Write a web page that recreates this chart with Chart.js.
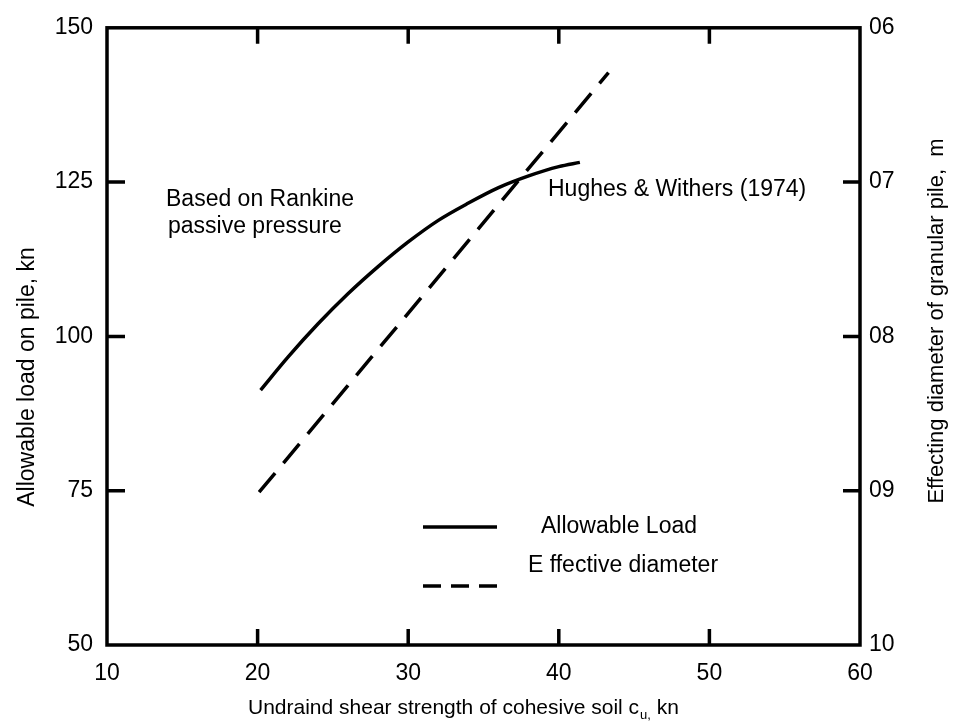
<!DOCTYPE html>
<html>
<head>
<meta charset="utf-8">
<title>Allowable load and effective diameter</title>
<script src="https://cdn.jsdelivr.net/npm/chart.js@4/dist/chart.umd.min.js"></script>
<style>
  html, body { margin: 0; padding: 0; background: #fff; }
  canvas { display: block; }
</style>
</head>
<body>
<canvas id="chart" width="959" height="722"></canvas>
<script>
// Data
const loadShear = [20.2, 22, 24, 26, 28, 30, 32, 34, 36, 38, 40, 41.4];
const allowableLoad = [91.3, 96.6, 102.0, 106.9, 111.3, 115.3, 118.8, 121.6, 124.1, 126.0, 127.5, 128.2];
const diameterShear = [20.1, 43.3];
const effectiveDiameter = [0.901, 0.629];

// Axis ranges / ticks
const xTicks = [10, 20, 30, 40, 50, 60];
const loadTicks = [50, 75, 100, 125, 150];
const diameterTicks = [0.6, 0.7, 0.8, 0.9, 1.0];

const FONT = '"Liberation Sans", Arial, Helvetica, sans-serif';

// Frame, inward tick marks, legend, notes and axis titles
const decorations = {
    id: 'decorations',
    afterDraw(chart) {
        const ctx = chart.ctx;
        const a = chart.chartArea;
        const sx = chart.scales.x, sy = chart.scales.y, sy2 = chart.scales.y2;
        ctx.save();
        ctx.strokeStyle = '#000';
        ctx.fillStyle = '#000';
        ctx.lineCap = 'butt';

        // frame
        ctx.lineWidth = 3.5;
        ctx.strokeRect(a.left, a.top, a.right - a.left, a.bottom - a.top);

        // inward ticks
        ctx.beginPath();
        xTicks.slice(1, -1).forEach(v => {
            const px = sx.getPixelForValue(v);
            ctx.moveTo(px, a.top); ctx.lineTo(px, a.top + 16);
            ctx.moveTo(px, a.bottom); ctx.lineTo(px, a.bottom - 16);
        });
        loadTicks.slice(1, -1).forEach(v => {
            const py = sy.getPixelForValue(v);
            ctx.moveTo(a.left, py); ctx.lineTo(a.left + 18, py);
        });
        diameterTicks.slice(1, -1).forEach(v => {
            const py = sy2.getPixelForValue(v);
            ctx.moveTo(a.right, py); ctx.lineTo(a.right - 17, py);
        });
        ctx.stroke();

        // legend
        ctx.beginPath();
        ctx.moveTo(423, 527); ctx.lineTo(497, 527);
        ctx.stroke();
        ctx.setLineDash([18, 10]);
        ctx.beginPath();
        ctx.moveTo(423, 586); ctx.lineTo(497, 586);
        ctx.stroke();
        ctx.setLineDash([]);

        ctx.font = '23px ' + FONT;
        ctx.textAlign = 'left';
        ctx.textBaseline = 'alphabetic';
        ctx.fillText('Allowable Load', 541, 533);
        ctx.fillText('E ffective diameter', 528, 572);

        // notes
        ctx.fillText('Based on Rankine', 166, 206);
        ctx.fillText('passive pressure', 168, 233);
        ctx.fillText('Hughes & Withers (1974)', 548, 196);

        // x title with subscript
        ctx.font = '21px ' + FONT;
        const main = 'Undraind shear strength of cohesive soil c';
        let x = 248;
        ctx.fillText(main, x, 714);
        x += ctx.measureText(main).width;
        ctx.font = '13px ' + FONT;
        ctx.fillText('u,', x + 1, 719);
        x += ctx.measureText('u,').width + 1;
        ctx.font = '21px ' + FONT;
        ctx.fillText(' kn', x, 714);

        // left title
        ctx.save();
        ctx.translate(34, 377);
        ctx.rotate(-Math.PI / 2);
        ctx.font = '23px ' + FONT;
        ctx.textAlign = 'center';
        ctx.fillText('Allowable load on pile, kn', 0, 0);
        ctx.restore();

        // right title
        ctx.save();
        ctx.translate(943, 321);
        ctx.rotate(-Math.PI / 2);
        ctx.font = '22px ' + FONT;
        ctx.textAlign = 'center';
        ctx.fillText('Effecting diameter of granular pile,  m', 0, 0);
        ctx.restore();

        ctx.restore();
    }
};

const ctx = document.getElementById('chart').getContext('2d');
const chart = new Chart(ctx, {
    type: 'line',
    data: {
        datasets: [
            {
                label: 'Allowable Load',
                data: loadShear.map((s, i) => ({ x: s, y: allowableLoad[i] })),
                yAxisID: 'y',
                borderColor: '#000',
                borderWidth: 3.5,
                pointRadius: 0,
                cubicInterpolationMode: 'monotone',
                fill: false
            },
            {
                label: 'Effective diameter',
                data: diameterShear.map((s, i) => ({ x: s, y: effectiveDiameter[i] })),
                yAxisID: 'y2',
                borderColor: '#000',
                borderWidth: 3.5,
                borderDash: [25, 13],
                pointRadius: 0,
                fill: false
            }
        ]
    },
    options: {
        responsive: false,
        animation: false,
        devicePixelRatio: 1,
        layout: { padding: { top: 20, left: 0, right: 0, bottom: 0 } },
        plugins: {
            legend: { display: false },
            tooltip: { enabled: false }
        },
        scales: {
            x: {
                type: 'linear',
                min: xTicks[0],
                max: xTicks[xTicks.length - 1],
                afterFit: s => { s.height = 77; },
                afterBuildTicks: s => { s.ticks = xTicks.map(v => ({ value: v })); },
                grid: { display: false, drawTicks: false },
                border: { display: false },
                ticks: {
                    padding: 15,
                    color: '#000',
                    font: { family: FONT, size: 23 },
                    maxRotation: 0
                }
            },
            y: {
                type: 'linear',
                position: 'left',
                min: loadTicks[0],
                max: loadTicks[loadTicks.length - 1],
                afterFit: s => { s.width = 107; },
                afterBuildTicks: s => { s.ticks = loadTicks.map(v => ({ value: v })); },
                grid: { display: false, drawTicks: false },
                border: { display: false },
                ticks: {
                    padding: 14,
                    color: '#000',
                    font: { family: FONT, size: 23 }
                }
            },
            y2: {
                type: 'linear',
                position: 'right',
                reverse: true,
                min: diameterTicks[0],
                max: diameterTicks[diameterTicks.length - 1],
                afterFit: s => { s.width = 99; },
                afterBuildTicks: s => { s.ticks = diameterTicks.map(v => ({ value: v })); },
                grid: { display: false, drawTicks: false },
                border: { display: false },
                ticks: {
                    padding: 9,
                    color: '#000',
                    font: { family: FONT, size: 23 },
                    callback: v => String(Math.round(v * 10)).padStart(2, '0')
                }
            }
        }
    },
    plugins: [decorations]
});
</script>
</body>
</html>
